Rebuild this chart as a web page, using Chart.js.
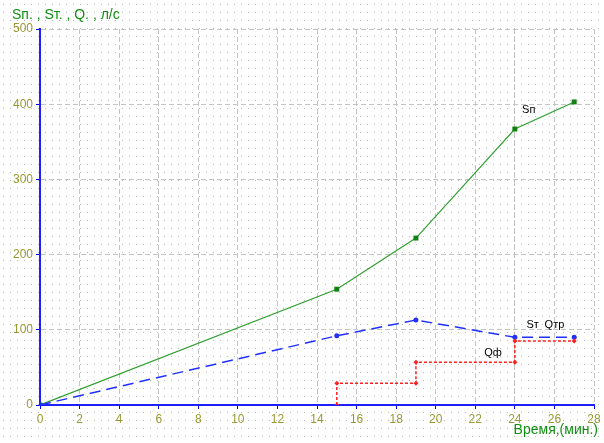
<!DOCTYPE html>
<html>
<head>
<meta charset="utf-8">
<script src="https://cdn.jsdelivr.net/npm/chart.js@4/dist/chart.umd.min.js"></script>
<style>
  html, body { margin: 0; padding: 0; background: #fff; }
  #wrap { width: 604px; height: 443px; }
</style>
</head>
<body>
<div id="wrap"><canvas id="chart" width="604" height="443"></canvas></div>
<script>
// values
const snTime = [0, 15, 19, 24, 27];
const snValues = [0, 154, 222, 367, 403];

const stTime = [0, 15, 19, 24, 27];
const stValues = [0, 92, 113, 90, 90];

const qTime = [15, 15, 19, 19, 24, 24, 27];
const qValues = [0, 29, 29, 57, 57, 85, 85];

const xTicks = [0, 2, 4, 6, 8, 10, 12, 14, 16, 18, 20, 22, 24, 26, 28];
const yTicks = [0, 100, 200, 300, 400, 500];

// series labels placed near the lines (time, value)
const seriesLabels = [
    { text: 'Sп', x: 24.7, y: 392 },
    { text: 'Sт', x: 24.9, y: 106 },
    { text: 'Qтр', x: 26.0, y: 106 },
    { text: 'Qф', x: 22.9, y: 69 }
];

const toPoints = (xs, ys) => xs.map((x, i) => ({ x: x, y: ys[i] }));

const tickColor = '#999933';
const titleColor = '#109010';

// dotted paper background
const dotBackground = {
    id: 'dotBackground',
    beforeDraw(chart) {
        const ctx = chart.ctx;
        const p = document.createElement('canvas');
        p.width = 7;
        p.height = 8;
        const pc = p.getContext('2d');
        pc.fillStyle = '#fff';
        pc.fillRect(0, 0, 7, 8);
        pc.fillStyle = '#b8b8b8';
        pc.fillRect(3, 4, 1, 1);
        ctx.save();
        ctx.fillStyle = ctx.createPattern(p, 'repeat');
        ctx.fillRect(0, 0, chart.width, chart.height);
        ctx.restore();
    }
};

const textLabels = {
    id: 'textLabels',
    afterDraw(chart) {
        const ctx = chart.ctx;
        const xs = chart.scales.x;
        const ys = chart.scales.y;
        ctx.save();
        ctx.fillStyle = '#000';
        ctx.font = '11px "Liberation Sans", Arial, sans-serif';
        ctx.textAlign = 'center';
        ctx.textBaseline = 'middle';
        for (let l of seriesLabels) {
            ctx.fillText(l.text, xs.getPixelForValue(l.x), ys.getPixelForValue(l.y));
        }
        ctx.fillStyle = titleColor;
        ctx.font = '14px "Liberation Sans", Arial, sans-serif';
        ctx.textAlign = 'left';
        ctx.fillText('Sп. , Sт. , Q. , л/с', 12, 15);
        ctx.textAlign = 'right';
        ctx.fillText('Время,(мин.)', 598, 430);
        ctx.restore();
    }
};

const ctx = document.getElementById('chart').getContext('2d');
new Chart(ctx, {
    type: 'scatter',
    data: {
        datasets: [{
            label: 'Qф',
            data: toPoints(qTime, qValues),
            showLine: true,
            borderColor: '#ff2020',
            backgroundColor: '#ff2020',
            borderWidth: 1.5,
            borderDash: [3, 2],
            pointStyle: 'rectRot',
            pointRadius: 2.5,
            pointBorderWidth: 0
        }, {
            label: 'Sт',
            data: toPoints(stTime, stValues),
            showLine: true,
            borderColor: '#2030ff',
            backgroundColor: '#2030ff',
            borderWidth: 1.5,
            borderDash: [11, 6],
            pointStyle: 'circle',
            pointRadius: 2.5,
            pointBorderWidth: 0
        }, {
            label: 'Sп',
            data: toPoints(snTime, snValues),
            showLine: true,
            borderColor: '#30a030',
            backgroundColor: '#108010',
            borderWidth: 1.2,
            pointStyle: 'rect',
            pointRadius: 3.5,
            pointBorderWidth: 0
        }]
    },
    options: {
        responsive: false,
        animation: false,
        layout: { padding: { top: 29, right: 10, left: 0, bottom: 0 } },
        plugins: {
            legend: { display: false },
            tooltip: { enabled: false }
        },
        scales: {
            x: {
                type: 'linear',
                min: 0,
                max: 28,
                afterBuildTicks: (axis) => { axis.ticks = xTicks.map(v => ({ value: v })); },
                afterFit: (axis) => { axis.height = 38; },
                ticks: {
                    color: tickColor,
                    font: { family: '"Liberation Sans", Arial, sans-serif', size: 12 },
                    padding: 3,
                    maxRotation: 0
                },
                grid: {
                    color: '#c4c4c4',
                    tickColor: '#0000ff',
                    tickLength: 4,
                    lineWidth: 1
                },
                border: { color: '#2020ff', width: 2, dash: [5, 3] }
            },
            y: {
                min: 0,
                max: 500,
                afterBuildTicks: (axis) => { axis.ticks = yTicks.map(v => ({ value: v })); },
                afterFit: (axis) => { axis.width = 40; },
                ticks: {
                    color: tickColor,
                    font: { family: '"Liberation Sans", Arial, sans-serif', size: 12 },
                    padding: 3
                },
                grid: {
                    color: '#c4c4c4',
                    tickColor: '#0000ff',
                    tickLength: 4,
                    lineWidth: 1
                },
                border: { color: '#2020ff', width: 2, dash: [5, 3] }
            }
        }
    },
    plugins: [dotBackground, textLabels]
});
</script>
</body>
</html>
